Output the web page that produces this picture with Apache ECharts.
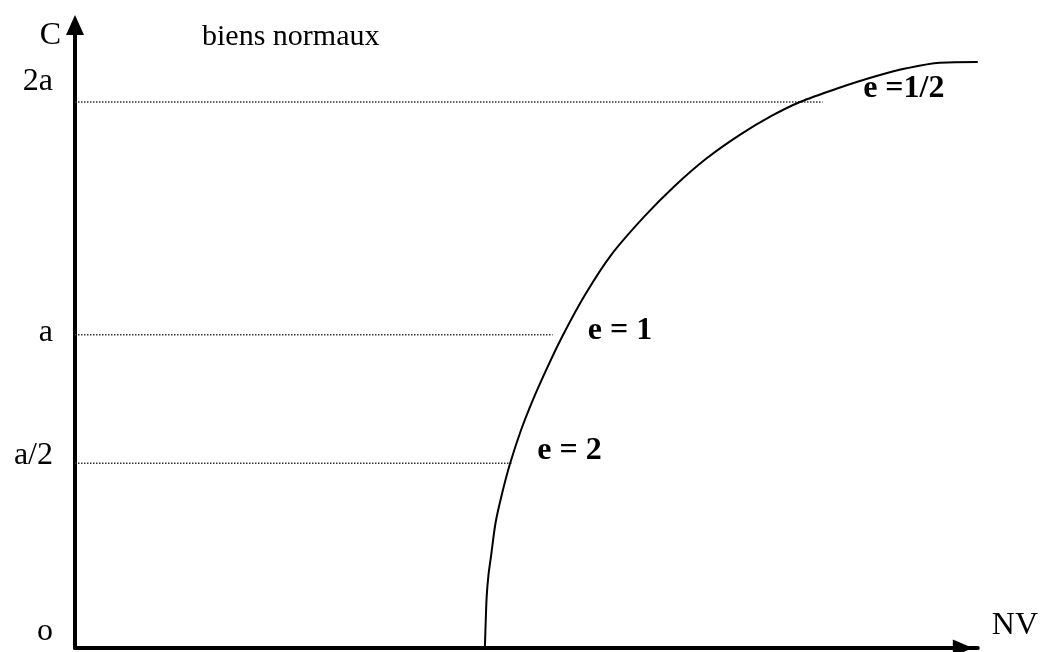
<!DOCTYPE html>
<html>
<head>
<meta charset="utf-8">
<script src="https://cdn.jsdelivr.net/npm/echarts@6/dist/echarts.min.js"></script>
<style>
  html, body { margin: 0; padding: 0; background: #fff; }
  #chart { width: 1041px; height: 652px; }
</style>
</head>
<body>
<div id="chart"></div>
<script>
'use strict';

// courbe (NV, C)
const curveX = [45.4, 45.5, 45.6, 45.8, 46.1, 46.6, 47.4, 48.2, 49.4, 50.7, 52.3, 54.0, 56.5, 59.4, 63.1, 66.4, 69.9, 73.6, 77.2, 80.3, 84.5, 88.4, 92.1, 95.8, 100];
const curveY = [0, 4.5, 8.2, 11.7, 14.9, 20.2, 25.3, 29.6, 34.9, 39.7, 44.9, 50.0, 56.6, 63.0, 69.2, 74.0, 78.4, 82.2, 85.3, 87.5, 89.7, 91.5, 92.9, 93.8, 93.9];

// niveaux horizontaux : hauteur et fin du pointillé
const levelNames = ['a/2', 'a', '2a'];
const levelY = [29.6, 50.2, 87.5];
const levelEndX = [48.5, 52.9, 82.8];

// graduations de l'axe C
const tickLabels = ['o', 'a/2', 'a', '2a'];
const tickValues = [2.6, 30.8, 50.6, 90.7];

// étiquettes d'élasticité
const eLabels = ['e = 2', 'e = 1', 'e =1/2'];
const eX = [51.2, 56.8, 87.3];
const eY = [31.6, 50.8, 89.6];

const serif = '"Liberation Serif", "Times New Roman", serif';

const levelSeries = levelY.map((y, i) => ({
  name: levelNames[i],
  type: 'line',
  symbol: 'none',
  silent: true,
  data: [[0, y], [levelEndX[i], y]],
  lineStyle: { color: '#333', width: 1.5, type: 'dotted' }
}));

const chart = echarts.init(document.getElementById('chart'), null, { renderer: 'canvas' });
chart.setOption({
  animation: false,
  backgroundColor: '#fff',
  title: {
    text: 'biens normaux',
    left: 197,
    top: 17,
    textStyle: { fontFamily: serif, fontSize: 30, fontWeight: 'normal', color: '#000' }
  },
  grid: { left: 75, right: 63, top: 24, bottom: 4 },
  xAxis: {
    type: 'value',
    min: 0,
    max: 100,
    name: 'NV',
    nameLocation: 'end',
    nameGap: 14,
    nameTextStyle: { fontFamily: serif, fontSize: 32, color: '#000', verticalAlign: 'bottom', padding: [0, 0, 6, 0] },
    axisLine: { lineStyle: { color: '#000', width: 4 }, symbol: ['none', 'triangle'], symbolSize: [17, 20], symbolOffset: [0, -15] },
    axisTick: { show: false },
    axisLabel: { show: false },
    splitLine: { show: false }
  },
  yAxis: {
    type: 'value',
    min: 0,
    max: 100,
    name: 'C',
    nameLocation: 'end',
    nameGap: -28,
    nameTextStyle: { fontFamily: serif, fontSize: 32, color: '#000', align: 'right', padding: [0, 14, 0, 0] },
    axisLine: { lineStyle: { color: '#000', width: 4 }, symbol: ['none', 'triangle'], symbolSize: [18, 20], symbolOffset: [0, -1] },
    axisTick: { show: false },
    axisLabel: {
      customValues: tickValues,
      formatter: v => tickLabels[tickValues.indexOf(v)],
      margin: 22,
      fontFamily: serif,
      fontSize: 32,
      color: '#000'
    },
    splitLine: { show: false }
  },
  series: [
    ...levelSeries,
    {
      name: 'courbe',
      type: 'line',
      symbol: 'none',
      smooth: 0.3,
      clip: false,
      data: curveX.map((x, i) => [x, curveY[i]]),
      lineStyle: { color: '#000', width: 2 }
    },
    {
      name: 'e',
      type: 'scatter',
      symbolSize: 0,
      silent: true,
      itemStyle: { opacity: 1 },
      data: eX.map((x, i) => ({ value: [x, eY[i]], name: eLabels[i] })),
      label: {
        show: true,
        position: 'inside',
        align: 'left',
        verticalAlign: 'middle',
        formatter: p => p.name,
        fontFamily: serif,
        fontSize: 32,
        fontWeight: 'bold',
        color: '#000'
      }
    }
  ]
});
</script>
</body>
</html>
